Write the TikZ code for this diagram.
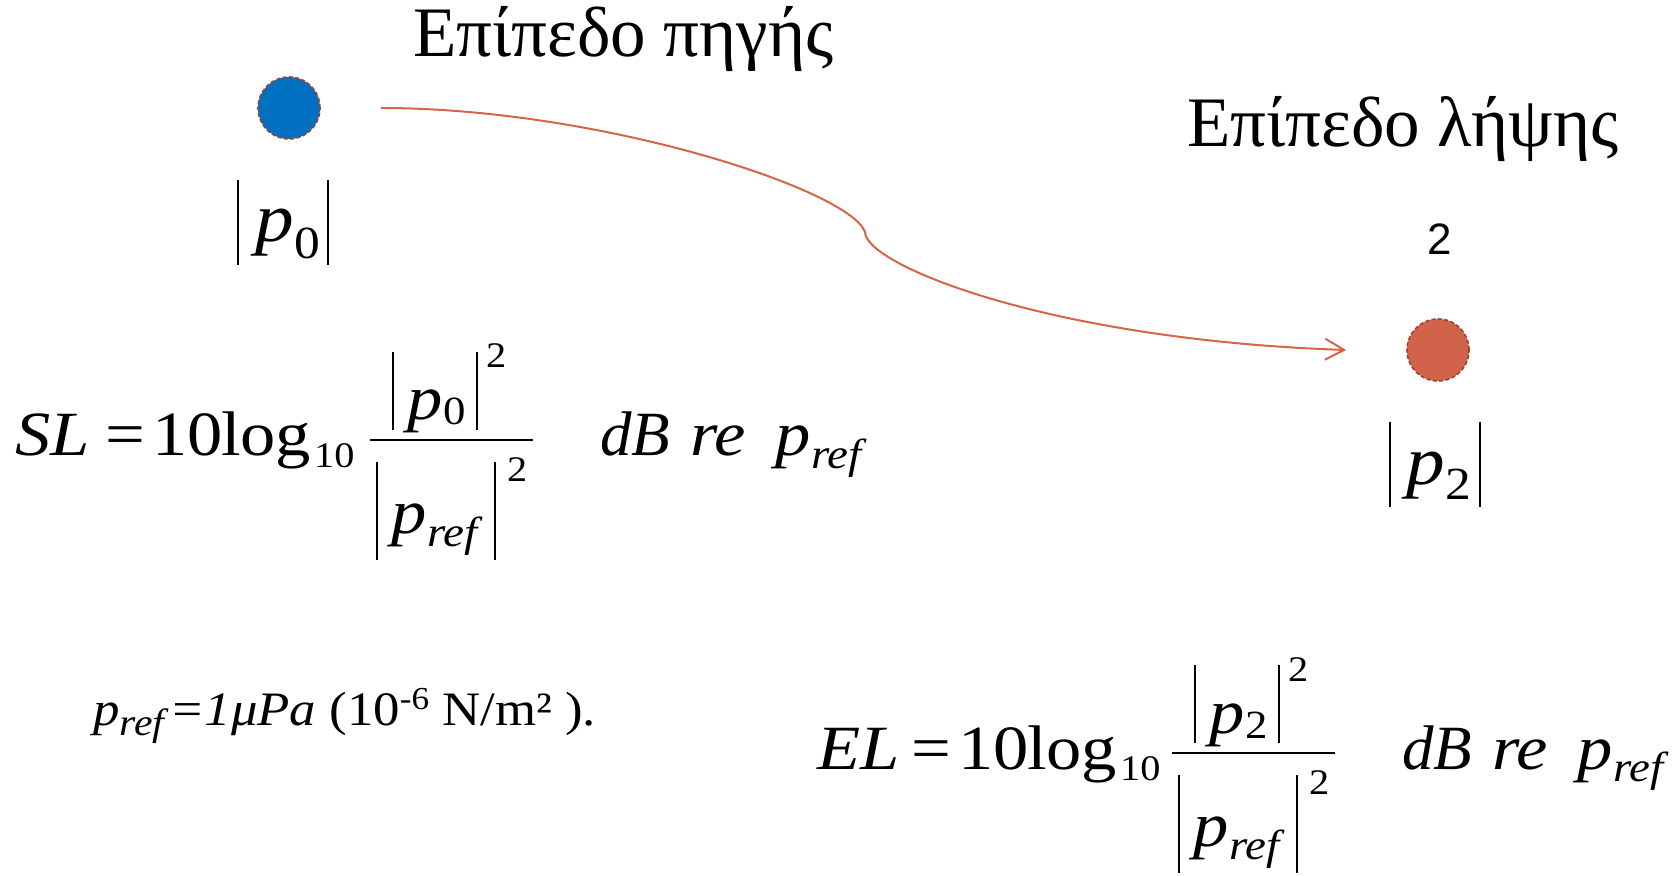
\documentclass[tikz,border=0pt]{standalone}
\usepackage{fontspec}
\setmainfont{Liberation Serif}
\newfontfamily\lblsans{Liberation Sans}
\newfontfamily\eqfont[FakeStretch=1.12]{Liberation Serif}
\newfontfamily\preffont[FakeStretch=1.1]{Liberation Serif}
\usetikzlibrary{arrows.meta}
\definecolor{srcblue}{RGB}{0,112,192}
\definecolor{rcvred}{RGB}{209,99,74}
\definecolor{dashred}{RGB}{160,64,44}
\definecolor{arrred}{RGB}{214,100,72}
\newcommand\fsz[1]{\fontsize{#1}{#1}\selectfont}
% #1 prefix, #2 left-hand side, #3 numerator subscript, #4 shift of the right-hand side start
\newcommand\levelformula[4]{%
  \node[tok,font=\eqfont\fsz{31.5}\itshape] (#1lhs) at (15,456) {#2};
  \node[tok,font=\eqfont\fsz{31.5}] (#1eq) at (105+#4,456) {=};
  \node[tok,font=\eqfont\fsz{31.5}] (#1ten) at (152+#4,456) {10};
  \node[tok,font=\eqfont\fsz{31.5}] (#1log) at (221+#4,456) {log};
  \node[tok,font=\eqfont\fsz{18}] (#1base) at ([shift={(3,11)}]#1log.base east) {10};
  \draw[fracbar] (370,440) -- (533,440);
  \draw[absbar] (393,352) -- (393,430) (477,352) -- (477,430);
  \node[tok,font=\eqfont\fsz{31.5}\itshape] (#1np) at (407,420) {p};
  \node[tok,font=\eqfont\fsz{20}] (#1nsub) at ([shift={(1,5)}]#1np.base east) {#3};
  \node[tok,font=\eqfont\fsz{18}] (#1nsup) at (486,368) {2};
  \draw[absbar] (377,462) -- (377,560) (495,462) -- (495,560);
  \node[tok,font=\eqfont\fsz{31.5}\itshape] (#1dp) at (391,533) {p};
  \node[tok,font=\eqfont\fsz{21}\itshape] (#1dsub) at ([shift={(1,13)}]#1dp.base east) {ref};
  \node[tok,font=\eqfont\fsz{18}] (#1dsup) at (507,481) {2};
  \node[tok,font=\fsz{31.5}\itshape] (#1unit) at (600,456) {dB};
  \node[tok,font=\eqfont\fsz{31.5}\itshape] (#1re) at (690,456) {re};
  \node[tok,font=\eqfont\fsz{31.5}\itshape] (#1p) at (775,456) {p};
  \node[tok,font=\eqfont\fsz{21}\itshape] (#1psub) at ([shift={(1,12)}]#1p.base east) {ref};
}
\begin{document}
\begin{tikzpicture}[x=0.5pt,y=-0.5pt,
  tok/.style={inner sep=0pt,outer sep=0pt,anchor=base west},
  absbar/.style={line width=1.2pt},
  fracbar/.style={line width=1.4pt},
  dot/.style={circle,minimum size=31pt,inner sep=0pt,draw=dashred,line width=0.8pt,dash pattern=on 2pt off 1.2pt},
  title/.style={tok,font=\fsz{35.5}},
  flow/.style={draw=arrred,line width=1pt,-{Straight Barb[length=9.5pt,width=10.5pt]}}]
\useasboundingbox (0,0) rectangle (1674,876);

% titles
\node[title] (t1) at (413,57) {Επίπεδο πηγής};
\node[title] (t2) at (1187,147) {Επίπεδο λήψης};

% source and receiver
\node[dot,fill=srcblue] (src) at (289,108) {};
\node[dot,fill=rcvred] (rcv) at (1438,350) {};
\node[font=\lblsans\fsz{22},inner sep=0pt] (num) at (1440,239) {2};

% |p0|
\draw[absbar] (238,180) -- (238,265) (328,180) -- (328,265);
\node[tok,font=\eqfont\fsz{34.5}\itshape] (p0) at (255,242) {p};
\node[tok,font=\eqfont\fsz{23}] (p0sub) at ([shift={(1,17)}]p0.base east) {0};
% |p2|
\draw[absbar] (1390,422) -- (1390,507) (1480,422) -- (1480,507);
\node[tok,font=\eqfont\fsz{34.5}\itshape] (p2) at (1406,485) {p};
\node[tok,font=\eqfont\fsz{23}] (p2sub) at ([shift={(1,15)}]p2.base east) {2};

% arrow
\path (src.east) ++(60,0) coordinate (a0);
\path (rcv.west) ++(-60,0) coordinate (a1);
\draw[flow] (a0) .. controls (600,108) and (850,190) .. (865,232)
  .. controls (865,265) and (1050,340) .. (a1);

% formulas
\begin{scope}
\levelformula{sl}{SL}{0}{0}
\end{scope}
\begin{scope}[shift={(802,313)}]
\levelformula{el}{EL}{2}{4}
\end{scope}

% reference pressure
\node[tok,font=\preffont\fsz{24}] (pref) at (93,725) {\textit{p}\raisebox{-5pt}{\fsz{19}\textit{ref}}\textit{=1μPa} (10\raisebox{8pt}{\fsz{16}-6} N/m² ).};
\end{tikzpicture}
\end{document}
